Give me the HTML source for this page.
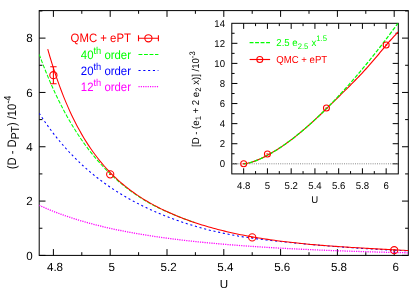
<!DOCTYPE html>
<html><head><meta charset="utf-8"><title>plot</title>
<style>html,body{margin:0;padding:0;background:#fff;}svg{display:block;will-change:transform;}text{text-rendering:geometricPrecision;}</style>
</head><body>
<svg width="415" height="290" viewBox="0 0 415 290" font-family="Liberation Sans, sans-serif">
<rect width="415" height="290" fill="#fff"/>
<g stroke="#000" stroke-width="1.0" fill="none" stroke-linecap="butt">
<rect x="39.2" y="10.6" width="369.10" height="244.80"/>
<path d="M53.40,255.4 v-6.3 M53.40,10.6 v6.3 M81.80,255.4 v-3.2 M81.80,10.6 v3.2 M110.20,255.4 v-6.3 M110.20,10.6 v6.3 M138.60,255.4 v-3.2 M138.60,10.6 v3.2 M167.00,255.4 v-6.3 M167.00,10.6 v6.3 M195.40,255.4 v-3.2 M195.40,10.6 v3.2 M223.80,255.4 v-6.3 M223.80,10.6 v6.3 M252.20,255.4 v-3.2 M252.20,10.6 v3.2 M280.60,255.4 v-6.3 M280.60,10.6 v6.3 M309.00,255.4 v-3.2 M309.00,10.6 v3.2 M337.40,255.4 v-6.3 M337.40,10.6 v6.3 M365.80,255.4 v-3.2 M365.80,10.6 v3.2 M394.20,255.4 v-6.3 M394.20,10.6 v6.3 M39.2,255.40 h6.3 M408.3,255.40 h-6.3 M39.2,228.24 h3.2 M408.3,228.24 h-3.2 M39.2,201.08 h6.3 M408.3,201.08 h-6.3 M39.2,173.92 h3.2 M408.3,173.92 h-3.2 M39.2,146.76 h6.3 M408.3,146.76 h-6.3 M39.2,119.60 h3.2 M408.3,119.60 h-3.2 M39.2,92.44 h6.3 M408.3,92.44 h-6.3 M39.2,65.28 h3.2 M408.3,65.28 h-3.2 M39.2,38.12 h6.3 M408.3,38.12 h-6.3 M39.2,10.96 h3.2 M408.3,10.96 h-3.2"/>
</g>
<clipPath id="cm"><rect x="39.2" y="10.6" width="369.10" height="244.80"/></clipPath>
<g clip-path="url(#cm)" fill="none" stroke-linecap="butt" stroke-linejoin="round">
<path d="M39.20,205.32 L41.52,206.37 L43.84,207.40 L46.17,208.40 L48.49,209.38 L50.81,210.33 L53.13,211.26 L55.45,212.16 L57.78,213.05 L60.10,213.91 L62.42,214.75 L64.74,215.58 L67.06,216.38 L69.39,217.16 L71.71,217.93 L74.03,218.67 L76.35,219.40 L78.67,220.12 L81.00,220.81 L83.32,221.49 L85.64,222.15 L87.96,222.80 L90.28,223.44 L92.61,224.06 L94.93,224.66 L97.25,225.26 L99.57,225.83 L101.89,226.40 L104.22,226.95 L106.54,227.49 L108.86,228.02 L111.18,228.54 L113.50,229.05 L115.83,229.54 L118.15,230.03 L120.47,230.50 L122.79,230.97 L125.11,231.42 L127.44,231.87 L129.76,232.30 L132.08,232.73 L134.40,233.15 L136.72,233.55 L139.05,233.95 L141.37,234.35 L143.69,234.73 L146.01,235.11 L148.33,235.47 L150.66,235.84 L152.98,236.19 L155.30,236.54 L157.62,236.88 L159.94,237.21 L162.27,237.54 L164.59,237.86 L166.91,238.17 L169.23,238.48 L171.55,238.78 L173.88,239.07 L176.20,239.36 L178.52,239.65 L180.84,239.93 L183.16,240.20 L185.49,240.47 L187.81,240.73 L190.13,240.99 L192.45,241.24 L194.77,241.49 L197.10,241.74 L199.42,241.98 L201.74,242.21 L204.06,242.44 L206.38,242.67 L208.71,242.89 L211.03,243.11 L213.35,243.33 L215.67,243.54 L217.99,243.74 L220.32,243.95 L222.64,244.15 L224.96,244.34 L227.28,244.54 L229.61,244.72 L231.93,244.91 L234.25,245.09 L236.57,245.27 L238.89,245.45 L241.22,245.62 L243.54,245.79 L245.86,245.96 L248.18,246.12 L250.50,246.29 L252.83,246.44 L255.15,246.60 L257.47,246.75 L259.79,246.91 L262.11,247.05 L264.44,247.20 L266.76,247.34 L269.08,247.48 L271.40,247.62 L273.72,247.76 L276.05,247.89 L278.37,248.03 L280.69,248.16 L283.01,248.28 L285.33,248.41 L287.66,248.53 L289.98,248.65 L292.30,248.77 L294.62,248.89 L296.94,249.01 L299.27,249.12 L301.59,249.23 L303.91,249.34 L306.23,249.45 L308.55,249.56 L310.88,249.66 L313.20,249.76 L315.52,249.87 L317.84,249.97 L320.16,250.06 L322.49,250.16 L324.81,250.26 L327.13,250.35 L329.45,250.44 L331.77,250.53 L334.10,250.62 L336.42,250.71 L338.74,250.79 L341.06,250.88 L343.38,250.96 L345.71,251.05 L348.03,251.13 L350.35,251.21 L352.67,251.28 L354.99,251.36 L357.32,251.44 L359.64,251.51 L361.96,251.59 L364.28,251.66 L366.60,251.73 L368.93,251.80 L371.25,251.87 L373.57,251.94 L375.89,252.00 L378.21,252.07 L380.54,252.13 L382.86,252.20 L385.18,252.26 L387.50,252.32 L389.82,252.38 L392.15,252.44 L394.47,252.50 L396.79,252.56 L399.11,252.61 L401.43,252.67 L403.76,252.72 L406.08,252.78 L408.40,252.83" stroke="#f0f" stroke-width="1.3" stroke-dasharray="1.2 1.1"/>
<path d="M39.20,113.26 L41.52,116.81 L43.84,120.26 L46.17,123.61 L48.49,126.86 L50.81,130.01 L53.13,133.08 L55.45,136.06 L57.78,138.95 L60.10,141.76 L62.42,144.49 L64.74,147.15 L67.06,149.74 L69.39,152.25 L71.71,154.70 L74.03,157.08 L76.35,159.39 L78.67,161.65 L81.00,163.85 L83.32,165.99 L85.64,168.07 L87.96,170.10 L90.28,172.08 L92.61,174.01 L94.93,175.89 L97.25,177.72 L99.57,179.51 L101.89,181.26 L104.22,182.96 L106.54,184.62 L108.86,186.24 L111.18,187.82 L113.50,189.37 L115.83,190.87 L118.15,192.35 L120.47,193.78 L122.79,195.19 L125.11,196.56 L127.44,197.90 L129.76,199.21 L132.08,200.49 L134.40,201.74 L136.72,202.96 L139.05,204.16 L141.37,205.32 L143.69,206.46 L146.01,207.58 L148.33,208.67 L150.66,209.74 L152.98,210.78 L155.30,211.80 L157.62,212.80 L159.94,213.77 L162.27,214.73 L164.59,215.66 L166.91,216.57 L169.23,217.46 L171.55,218.34 L173.88,219.19 L176.20,220.03 L178.52,220.85 L180.84,221.65 L183.16,222.43 L185.49,223.20 L187.81,223.94 L190.13,224.67 L192.45,225.39 L194.77,226.08 L197.10,226.76 L199.42,227.42 L201.74,228.06 L204.06,228.69 L206.38,229.30 L208.71,229.89 L211.03,230.47 L213.35,231.03 L215.67,231.57 L217.99,232.09 L220.32,232.61 L222.64,233.10 L224.96,233.58 L227.28,234.05 L229.61,234.50 L231.93,234.93 L234.25,235.35 L236.57,235.76 L238.89,236.15 L241.22,236.53 L243.54,236.90 L245.86,237.26 L248.18,237.60 L250.50,237.94 L252.83,238.26 L255.15,238.58 L257.47,238.89 L259.79,239.19 L262.11,239.48 L264.44,239.76 L266.76,240.04 L269.08,240.31 L271.40,240.58 L273.72,240.84 L276.05,241.09 L278.37,241.34 L280.69,241.59 L283.01,241.83 L285.33,242.07 L287.66,242.30 L289.98,242.53 L292.30,242.76 L294.62,242.99 L296.94,243.21 L299.27,243.43 L301.59,243.64 L303.91,243.86 L306.23,244.07 L308.55,244.28 L310.88,244.49 L313.20,244.70 L315.52,244.90 L317.84,245.10 L320.16,245.30 L322.49,245.50 L324.81,245.69 L327.13,245.88 L329.45,246.07 L331.77,246.25 L334.10,246.44 L336.42,246.62 L338.74,246.79 L341.06,246.97 L343.38,247.14 L345.71,247.31 L348.03,247.48 L350.35,247.64 L352.67,247.80 L354.99,247.96 L357.32,248.12 L359.64,248.27 L361.96,248.42 L364.28,248.57 L366.60,248.71 L368.93,248.86 L371.25,249.00 L373.57,249.13 L375.89,249.27 L378.21,249.40 L380.54,249.53 L382.86,249.66 L385.18,249.78 L387.50,249.91 L389.82,250.03 L392.15,250.14 L394.47,250.26 L396.79,250.37 L399.11,250.48 L401.43,250.59 L403.76,250.70 L406.08,250.80 L408.40,250.90" stroke="#00f" stroke-width="1.05" stroke-dasharray="2.1 2.7"/>
<path d="M39.20,54.38 L41.52,60.63 L43.84,66.66 L46.17,72.47 L48.49,78.08 L50.81,83.49 L53.13,88.71 L55.45,93.75 L57.78,98.61 L60.10,103.31 L62.42,107.84 L64.74,112.22 L67.06,116.44 L69.39,120.53 L71.71,124.47 L74.03,128.28 L76.35,131.97 L78.67,135.53 L81.00,138.97 L83.32,142.29 L85.64,145.51 L87.96,148.62 L90.28,151.63 L92.61,154.54 L94.93,157.36 L97.25,160.08 L99.57,162.72 L101.89,165.27 L104.22,167.74 L106.54,170.14 L108.86,172.45 L111.18,174.70 L113.50,176.87 L115.83,178.97 L118.15,181.01 L120.47,182.99 L122.79,184.90 L125.11,186.76 L127.44,188.56 L129.76,190.30 L132.08,191.99 L134.40,193.63 L136.72,195.22 L139.05,196.77 L141.37,198.26 L143.69,199.72 L146.01,201.12 L148.33,202.47 L150.66,203.78 L152.98,205.03 L155.30,206.24 L157.62,207.41 L159.94,208.54 L162.27,209.64 L164.59,210.70 L166.91,211.74 L169.23,212.74 L171.55,213.73 L173.88,214.70 L176.20,215.65 L178.52,216.59 L180.84,217.51 L183.16,218.41 L185.49,219.29 L187.81,220.14 L190.13,220.97 L192.45,221.78 L194.77,222.58" stroke="#0f0" stroke-width="1.05" stroke-dasharray="3.9 1.6"/>
<path d="M47.72,49.14 L49.99,56.99 L52.26,64.45 L54.53,71.53 L56.79,78.26 L59.06,84.67 L61.33,90.77 L63.60,96.58 L65.87,102.11 L68.14,107.39 L70.40,112.42 L72.67,117.22 L74.94,121.80 L77.21,126.18 L79.48,130.37 L81.75,134.37 L84.01,138.20 L86.28,141.87 L88.55,145.38 L90.82,148.74 L93.09,151.97 L95.36,155.06 L97.63,158.03 L99.89,160.88 L102.16,163.61 L104.43,166.24 L106.70,168.77 L108.97,171.20 L111.24,173.54 L113.50,175.80 L115.77,177.97 L118.04,180.06 L120.31,182.08 L122.58,184.02 L124.85,185.90 L127.11,187.71 L129.38,189.46 L131.65,191.15 L133.92,192.79 L136.19,194.37 L138.46,195.90 L140.73,197.39 L142.99,198.82 L145.26,200.22 L147.53,201.56 L149.80,202.87 L152.07,204.14 L154.34,205.38 L156.60,206.57 L158.87,207.74 L161.14,208.87 L163.41,209.97 L165.68,211.04 L167.95,212.08 L170.22,213.09 L172.48,214.08 L174.75,215.04 L177.02,215.98 L179.29,216.90 L181.56,217.79 L183.83,218.66 L186.09,219.51 L188.36,220.34 L190.63,221.15 L192.90,221.94 L195.17,222.71 L197.44,223.46 L199.70,224.19 L201.97,224.90 L204.24,225.60 L206.51,226.28 L208.78,226.94 L211.05,227.58 L213.32,228.21 L215.58,228.83 L217.85,229.42 L220.12,230.01 L222.39,230.58 L224.66,231.13 L226.93,231.67 L229.19,232.20 L231.46,232.71 L233.73,233.21 L236.00,233.70 L238.27,234.17 L240.54,234.64 L242.80,235.09 L245.07,235.53 L247.34,235.96 L249.61,236.38 L251.88,236.79 L254.15,237.18 L256.42,237.57 L258.68,237.95 L260.95,238.32 L263.22,238.68 L265.49,239.03 L267.76,239.37 L270.03,239.70 L272.29,240.02 L274.56,240.34 L276.83,240.65 L279.10,240.95 L281.37,241.24 L283.64,241.52 L285.90,241.80 L288.17,242.07 L290.44,242.33 L292.71,242.59 L294.98,242.84 L297.25,243.08 L299.52,243.32 L301.78,243.55 L304.05,243.78 L306.32,244.00 L308.59,244.21 L310.86,244.42 L313.13,244.62 L315.39,244.82 L317.66,245.02 L319.93,245.20 L322.20,245.39 L324.47,245.57 L326.74,245.74 L329.01,245.91 L331.27,246.07 L333.54,246.24 L335.81,246.39 L338.08,246.55 L340.35,246.70 L342.62,246.85 L344.88,247.00 L347.15,247.14 L349.42,247.28 L351.69,247.42 L353.96,247.56 L356.23,247.70 L358.49,247.83 L360.76,247.97 L363.03,248.10 L365.30,248.23 L367.57,248.36 L369.84,248.49 L372.11,248.61 L374.37,248.74 L376.64,248.87 L378.91,248.99 L381.18,249.12 L383.45,249.24 L385.72,249.36 L387.98,249.49 L390.25,249.61 L392.52,249.73 L394.79,249.85 L397.06,249.98 L399.33,250.10 L401.59,250.22 L403.86,250.34 L406.13,250.46 L408.40,250.58" stroke="#f00" stroke-width="1.05"/>
</g>
<g stroke="#f00" stroke-width="1.1" fill="none">
<circle cx="53.40" cy="75.19" r="3.6"/>
<path d="M53.40,66.69 V83.69 M50.20,66.69 h6.4 M50.20,83.69 h6.4"/>
<circle cx="110.20" cy="174.33" r="3.6"/>
<path d="M109.00,174.33 h2.4"/>
<circle cx="252.20" cy="237.39" r="3.6"/>
<path d="M251.00,237.39 h2.4"/>
<circle cx="394.20" cy="250.19" r="3.6"/>
<path d="M393.00,250.19 h2.4"/>
</g>
<g font-size="11.6" fill="#000">
<text transform="translate(32.60,259.70) scale(1,1.02)" text-anchor="end" >0</text>
<text transform="translate(32.60,205.38) scale(1,1.02)" text-anchor="end" >2</text>
<text transform="translate(32.60,151.06) scale(1,1.02)" text-anchor="end" >4</text>
<text transform="translate(32.60,96.74) scale(1,1.02)" text-anchor="end" >6</text>
<text transform="translate(32.60,42.42) scale(1,1.02)" text-anchor="end" >8</text>
<text transform="translate(55.00,271.30) scale(1,1.02)" text-anchor="middle" >4.8</text>
<text transform="translate(111.80,271.30) scale(1,1.02)" text-anchor="middle" >5</text>
<text transform="translate(168.60,271.30) scale(1,1.02)" text-anchor="middle" >5.2</text>
<text transform="translate(225.40,271.30) scale(1,1.02)" text-anchor="middle" >5.4</text>
<text transform="translate(282.20,271.30) scale(1,1.02)" text-anchor="middle" >5.6</text>
<text transform="translate(339.00,271.30) scale(1,1.02)" text-anchor="middle" >5.8</text>
<text transform="translate(395.80,271.30) scale(1,1.02)" text-anchor="middle" >6</text>
<text transform="translate(224.00,288.00) scale(1,1.02)" text-anchor="middle" >U</text>
<text transform="translate(16.10,169.20) rotate(-90) scale(1,1.1)" text-anchor="start" font-size="11.2">(D - D<tspan font-size="10.4" dy="2.8">PT</tspan><tspan dy="-2.8">) /10</tspan><tspan font-size="9.2" dy="-4.6">-4</tspan></text>
</g>
<g font-size="11.4">
<text transform="translate(131.00,42.40) scale(1,1.07)" text-anchor="end" fill="#f00">QMC + ePT</text>
<text transform="translate(131.00,58.80) scale(1,1.07)" text-anchor="end" fill="#0f0">40<tspan font-size="9.3" dy="-4.8">th</tspan><tspan dy="4.8"> order</tspan></text>
<text transform="translate(131.00,74.70) scale(1,1.07)" text-anchor="end" fill="#00f">20<tspan font-size="9.3" dy="-4.8">th</tspan><tspan dy="4.8"> order</tspan></text>
<text transform="translate(131.00,90.90) scale(1,1.07)" text-anchor="end" fill="#f0f">12<tspan font-size="9.3" dy="-4.8">th</tspan><tspan dy="4.8"> order</tspan></text>
</g>
<g fill="none" stroke-width="1.05">
<path d="M138.5,38.3 H158.4 M138.5,35.3 v6 M158.4,35.3 v6" stroke="#f00" stroke-width="1.1"/>
<circle cx="148.4" cy="38.3" r="3.6" stroke="#f00" stroke-width="1.1"/>
<path d="M138.5,54.5 H158.4" stroke="#0f0" stroke-dasharray="3.9 1.6"/>
<path d="M138.5,70.4 H158.4" stroke="#00f" stroke-dasharray="2.1 2.7"/>
<path d="M138.5,86.6 H158.4" stroke="#f0f" stroke-dasharray="1.15 1.15"/>
</g>
<rect x="231.8" y="23.3" width="166.50" height="150.60" fill="#fff"/>
<g stroke="#000" stroke-width="1.0" fill="none">
<rect x="231.8" y="23.3" width="166.50" height="150.60"/>
<path d="M243.67,173.9 v-5.6 M243.67,23.3 v5.6 M255.55,173.9 v-2.8 M255.55,23.3 v2.8 M267.43,173.9 v-5.6 M267.43,23.3 v5.6 M279.30,173.9 v-2.8 M279.30,23.3 v2.8 M291.18,173.9 v-5.6 M291.18,23.3 v5.6 M303.05,173.9 v-2.8 M303.05,23.3 v2.8 M314.93,173.9 v-5.6 M314.93,23.3 v5.6 M326.80,173.9 v-2.8 M326.80,23.3 v2.8 M338.67,173.9 v-5.6 M338.67,23.3 v5.6 M350.55,173.9 v-2.8 M350.55,23.3 v2.8 M362.42,173.9 v-5.6 M362.42,23.3 v5.6 M374.30,173.9 v-2.8 M374.30,23.3 v2.8 M386.17,173.9 v-5.6 M386.17,23.3 v5.6 M231.8,163.80 h5.6 M398.3,163.80 h-5.6 M231.8,153.76 h2.8 M398.3,153.76 h-2.8 M231.8,143.72 h5.6 M398.3,143.72 h-5.6 M231.8,133.68 h2.8 M398.3,133.68 h-2.8 M231.8,123.64 h5.6 M398.3,123.64 h-5.6 M231.8,113.60 h2.8 M398.3,113.60 h-2.8 M231.8,103.56 h5.6 M398.3,103.56 h-5.6 M231.8,93.52 h2.8 M398.3,93.52 h-2.8 M231.8,83.48 h5.6 M398.3,83.48 h-5.6 M231.8,73.44 h2.8 M398.3,73.44 h-2.8 M231.8,63.40 h5.6 M398.3,63.40 h-5.6 M231.8,53.36 h2.8 M398.3,53.36 h-2.8 M231.8,43.32 h5.6 M398.3,43.32 h-5.6 M231.8,33.28 h2.8 M398.3,33.28 h-2.8"/>
</g>
<path d="M231.8,163.80 H398.3" stroke="#8a8a8a" stroke-width="1" stroke-dasharray="1 1.2" fill="none"/>
<clipPath id="ci"><rect x="231.8" y="23.3" width="166.50" height="150.60"/></clipPath>
<g clip-path="url(#ci)" fill="none">
<path d="M243.67,163.80 L244.97,163.69 L246.27,163.49 L247.57,163.24 L248.86,162.93 L250.16,162.59 L251.46,162.21 L252.76,161.79 L254.05,161.35 L255.35,160.88 L256.65,160.37 L257.94,159.85 L259.24,159.30 L260.54,158.72 L261.84,158.13 L263.13,157.51 L264.43,156.87 L265.73,156.21 L267.03,155.53 L268.32,154.83 L269.62,154.11 L270.92,153.37 L272.21,152.62 L273.51,151.85 L274.81,151.06 L276.11,150.26 L277.40,149.44 L278.70,148.60 L280.00,147.75 L281.30,146.88 L282.59,146.00 L283.89,145.10 L285.19,144.19 L286.48,143.26 L287.78,142.32 L289.08,141.37 L290.38,140.40 L291.67,139.42 L292.97,138.42 L294.27,137.42 L295.57,136.39 L296.86,135.36 L298.16,134.31 L299.46,133.25 L300.75,132.18 L302.05,131.10 L303.35,130.00 L304.65,128.89 L305.94,127.77 L307.24,126.64 L308.54,125.50 L309.84,124.34 L311.13,123.18 L312.43,122.00 L313.73,120.81 L315.02,119.61 L316.32,118.40 L317.62,117.19 L318.92,115.96 L320.21,114.73 L321.51,113.49 L322.81,112.24 L324.11,110.98 L325.40,109.71 L326.70,108.43 L328.00,107.15 L329.29,105.88 L330.59,104.62 L331.89,103.36 L333.19,102.09 L334.48,100.83 L335.78,99.56 L337.08,98.29 L338.38,97.01 L339.67,95.73 L340.97,94.45 L342.27,93.18 L343.56,91.91 L344.86,90.64 L346.16,89.36 L347.46,88.09 L348.75,86.80 L350.05,85.50 L351.35,84.20 L352.65,82.89 L353.94,81.58 L355.24,80.27 L356.54,78.95 L357.83,77.62 L359.13,76.27 L360.43,74.91 L361.73,73.52 L363.02,72.11 L364.32,70.69 L365.62,69.25 L366.92,67.80 L368.21,66.34 L369.51,64.87 L370.81,63.39 L372.10,61.90 L373.40,60.40 L374.70,58.90 L376.00,57.38 L377.29,55.84 L378.59,54.29 L379.89,52.73 L381.19,51.17 L382.48,49.61 L383.78,48.05 L385.08,46.51 L386.37,44.97 L387.67,43.45 L388.97,41.96 L390.27,40.50 L391.56,39.05 L392.86,37.62 L394.16,36.20 L395.46,34.79 L396.75,33.40 L398.05,32.00" stroke="#f00" stroke-width="1.15"/>
<path d="M243.67,163.80 L244.97,163.69 L246.27,163.49 L247.57,163.24 L248.86,162.93 L250.16,162.59 L251.46,162.21 L252.76,161.79 L254.05,161.35 L255.35,160.88 L256.65,160.37 L257.94,159.85 L259.24,159.30 L260.54,158.72 L261.84,158.13 L263.13,157.51 L264.43,156.87 L265.73,156.21 L267.03,155.53 L268.32,154.83 L269.62,154.11 L270.92,153.37 L272.21,152.62 L273.51,151.85 L274.81,151.06 L276.11,150.26 L277.40,149.44 L278.70,148.60 L280.00,147.75 L281.30,146.88 L282.59,146.00 L283.89,145.10 L285.19,144.19 L286.48,143.26 L287.78,142.32 L289.08,141.37 L290.38,140.40 L291.67,139.42 L292.97,138.42 L294.27,137.42 L295.57,136.39 L296.86,135.36 L298.16,134.31 L299.46,133.25 L300.75,132.18 L302.05,131.10 L303.35,130.00 L304.65,128.89 L305.94,127.77 L307.24,126.64 L308.54,125.50 L309.84,124.34 L311.13,123.18 L312.43,122.00 L313.73,120.81 L315.02,119.61 L316.32,118.40 L317.62,117.18 L318.92,115.95 L320.21,114.70 L321.51,113.45 L322.81,112.19 L324.11,110.91 L325.40,109.63 L326.70,108.33 L328.00,107.03 L329.29,105.71 L330.59,104.39 L331.89,103.05 L333.19,101.71 L334.48,100.35 L335.78,98.99 L337.08,97.62 L338.38,96.23 L339.67,94.84 L340.97,93.44 L342.27,92.02 L343.56,90.60 L344.86,89.17 L346.16,87.73 L347.46,86.28 L348.75,84.83 L350.05,83.36 L351.35,81.88 L352.65,80.40 L353.94,78.90 L355.24,77.40 L356.54,75.89 L357.83,74.37 L359.13,72.84 L360.43,71.30 L361.73,69.76 L363.02,68.20 L364.32,66.64 L365.62,65.07 L366.92,63.49 L368.21,61.90 L369.51,60.31 L370.81,58.70 L372.10,57.09 L373.40,55.47 L374.70,53.84 L376.00,52.20 L377.29,50.56 L378.59,48.90 L379.89,47.24 L381.19,45.57 L382.48,43.90 L383.78,42.21 L385.08,40.52 L386.37,38.82 L387.67,37.11 L388.97,35.39 L390.27,33.67 L391.56,31.94 L392.86,30.20 L394.16,28.45 L395.46,26.70 L396.75,24.94 L398.05,23.17" stroke="#0f0" stroke-width="1.25" stroke-dasharray="3.9 1.6"/>
</g>
<g stroke="#f00" stroke-width="1.05" fill="none">
<circle cx="243.67" cy="163.80" r="3.0"/>
<path d="M242.57,163.80 h2.2"/>
<circle cx="267.43" cy="153.96" r="3.0"/>
<path d="M266.32,153.96 h2.2"/>
<circle cx="326.44" cy="108.08" r="3.0"/>
<path d="M325.34,108.08 h2.2"/>
<circle cx="386.17" cy="45.03" r="3.0"/>
<path d="M385.07,45.03 h2.2"/>
</g>
<g font-size="9.6" fill="#000">
<text transform="translate(225.00,167.30) scale(1,1.03)" text-anchor="end" >0</text>
<text transform="translate(225.00,147.22) scale(1,1.03)" text-anchor="end" >2</text>
<text transform="translate(225.00,127.14) scale(1,1.03)" text-anchor="end" >4</text>
<text transform="translate(225.00,107.06) scale(1,1.03)" text-anchor="end" >6</text>
<text transform="translate(225.00,86.98) scale(1,1.03)" text-anchor="end" >8</text>
<text transform="translate(225.00,66.90) scale(1,1.03)" text-anchor="end" >10</text>
<text transform="translate(225.00,46.82) scale(1,1.03)" text-anchor="end" >12</text>
<text transform="translate(225.00,26.74) scale(1,1.03)" text-anchor="end" >14</text>
<text transform="translate(243.77,189.35) scale(1,1.03)" text-anchor="middle" >4.8</text>
<text transform="translate(267.53,189.35) scale(1,1.03)" text-anchor="middle" >5</text>
<text transform="translate(291.28,189.35) scale(1,1.03)" text-anchor="middle" >5.2</text>
<text transform="translate(315.03,189.35) scale(1,1.03)" text-anchor="middle" >5.4</text>
<text transform="translate(338.77,189.35) scale(1,1.03)" text-anchor="middle" >5.6</text>
<text transform="translate(362.52,189.35) scale(1,1.03)" text-anchor="middle" >5.8</text>
<text transform="translate(386.27,189.35) scale(1,1.03)" text-anchor="middle" >6</text>
<text transform="translate(314.80,203.35) scale(1,1.03)" text-anchor="middle" >U</text>
<text transform="translate(198.90,147.00) rotate(-90) scale(1,1.04)" text-anchor="start" >[D - (e<tspan font-size="7.68" dy="2.1">1</tspan><tspan dy="-2.1"> + 2 e</tspan><tspan font-size="7.68" dy="2.1">2</tspan><tspan dy="-2.1"> x)] /10</tspan><tspan font-size="7.68" dy="-4.1">-3</tspan></text>
</g>
<g font-size="9.6">
<text transform="translate(276.30,46.30) scale(1,1.05)" text-anchor="start" fill="#0f0">2.5 e<tspan font-size="7.68" dy="2.3">2.5</tspan><tspan dy="-2.3" dx="0.5"> x</tspan><tspan font-size="7.68" dy="-5.2">1.5</tspan></text>
<text transform="translate(276.30,62.95) scale(1,1.05)" text-anchor="start" fill="#f00">QMC + ePT</text>
</g>
<g fill="none">
<path d="M249.6,42.6 H270.1" stroke="#0f0" stroke-width="1.25" stroke-dasharray="3.9 1.6"/>
<path d="M249.6,59.5 H270.1" stroke="#f00" stroke-width="1.15"/>
<circle cx="259.8" cy="59.5" r="3.0" stroke="#f00" stroke-width="1.05"/>
</g>
</svg>
</body></html>
